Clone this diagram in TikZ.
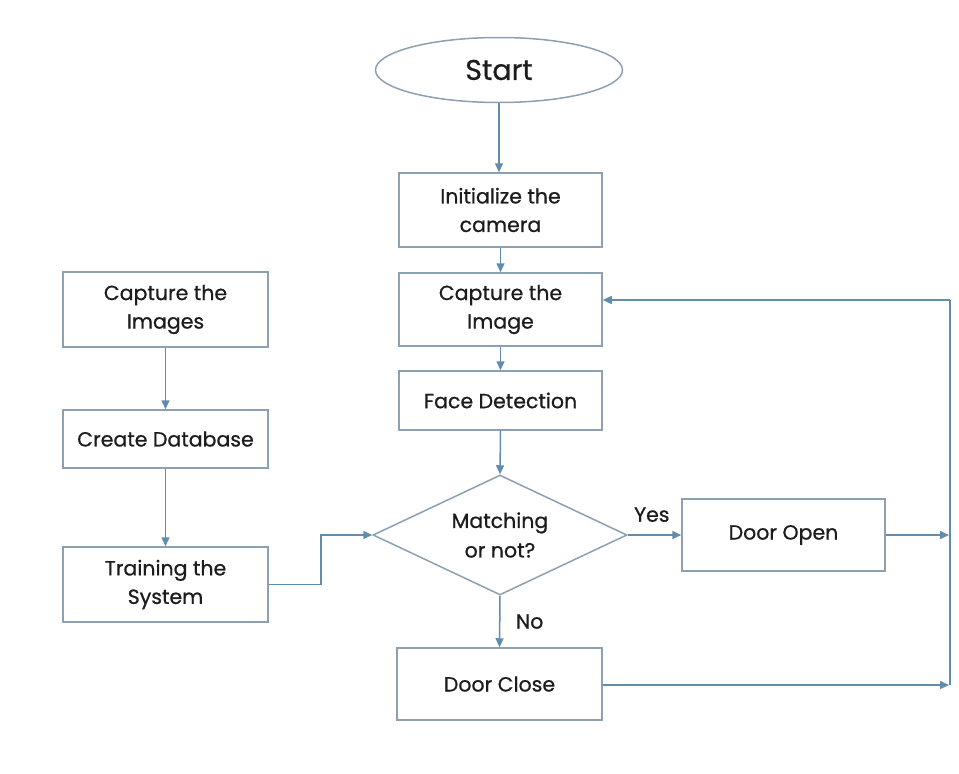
\documentclass[tikz,border=0pt]{standalone}
\usepackage{fontspec}
\setmainfont{Poppins}[FakeBold=0.7]
\usetikzlibrary{arrows.meta,shapes.geometric}
\definecolor{flowline}{RGB}{98,140,172}
\definecolor{boxline}{RGB}{140,160,178}
\definecolor{ink}{RGB}{28,28,28}
\tikzset{
  procbox/.style={draw=boxline, line width=1.5pt, rectangle, inner sep=0pt,
    minimum width=203pt, text=ink, font=\fontsize{20.5}{28.5}\selectfont, align=center},
  startshape/.style={draw=boxline, line width=1.5pt, ellipse, inner sep=0pt,
    minimum width=247pt, minimum height=65pt, text=ink, font=\fontsize{28.5}{32}\selectfont},
  decide/.style={draw=boxline, line width=1.5pt, diamond, shape aspect=2.1, inner sep=0pt,
    minimum width=254pt, minimum height=120pt, text=ink, font=\fontsize{20.5}{29.5}\selectfont, align=center},
  flow/.style={draw=flowline, line width=1.5pt, -{Triangle[length=9pt,width=8pt]}},
  plainflow/.style={draw=flowline, line width=1.5pt},
  tag/.style={text=ink, font=\fontsize{20.5}{24}\selectfont}
}
\begin{document}
\begin{tikzpicture}[x=1pt,y=-1pt]
\useasboundingbox (0,0) rectangle (959,774);

% main column
\node[startshape] (start) at (499,70) {Start};
\node[procbox, minimum height=74pt] (init) at (500.5,210) {Initialize the\\camera};
\node[procbox, minimum height=73pt] (capimg) at (500.5,309.5) {Capture the\\Image};
\node[procbox, minimum height=59pt] (face) at (500.5,400.5) {Face Detection};
\node[decide] (match) at (500,535) {Matching\\or not?};
\node[procbox, minimum width=205pt, minimum height=72pt] (dclose) at (499.5,684) {Door Close};
\node[procbox, minimum height=72pt] (dopen) at (783.5,535) {Door Open};

% training column
\node[procbox, minimum width=205pt, minimum height=75pt] (capimgs) at (165.5,309.5) {Capture the\\Images};
\node[procbox, minimum width=205pt, minimum height=58pt] (db) at (165.5,439) {Create Database};
\node[procbox, minimum width=205pt, minimum height=75pt] (train) at (165.5,584.5) {Training the\\System};

% loop-back rail on the right
\coordinate (rtop) at (950,300);
\coordinate (ropen) at (950,535);
\coordinate (rclose) at (950,685);

% connectors
\draw[flow] (start.south) -- (start.south |- init.north);
\draw[flow] (init) -- (capimg);
\draw[flow] (capimg) -- (face);
\draw[flow] (face.south) -- (match.north);
\draw[flow] (match.south) -- (dclose.north) node[tag, pos=0.5, right=12pt] {No};
\draw[flow] (match.east) -- (dopen.west) node[tag, pos=0.45, above=9pt] {Yes};
\draw[flow] (capimgs) -- (db);
\draw[flow] (db) -- (train);
\draw[flow] (train.east) -- ++(52,0) |- (match.west);
\draw[flow] (dopen.east) -- ([xshift=-1pt]ropen);
\draw[flow] (dclose.east |- rclose) -- ([xshift=-1pt]rclose);
\draw[plainflow] (rclose) -- (rtop);
\draw[flow] (rtop) -- (rtop -| capimg.east);
\end{tikzpicture}
\end{document}
